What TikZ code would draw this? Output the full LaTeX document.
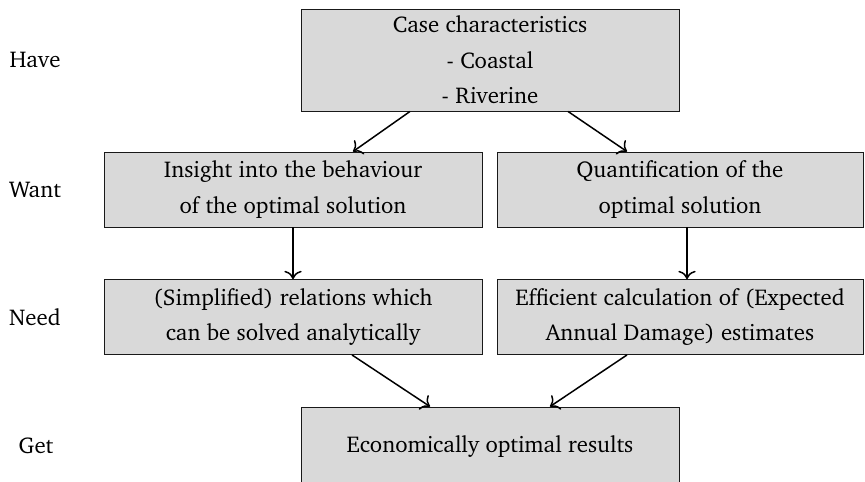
\documentclass[tikz,border=0pt]{standalone}
\usepackage[T1]{fontenc}
\usepackage{charter}
\usetikzlibrary{arrows.meta}

\begin{document}
\begin{tikzpicture}[
        % pixel grid of the reference
        x=0.02cm,
        y=-0.02cm,
        box/.style={draw=black!90, fill=black!15, line width=0.5pt, align=center, inner sep=0pt,
            minimum width=7.56cm, minimum height=1.5cm, font=\fontsize{13}{20.3}\selectfont},
        narrowBox/.style={box, minimum width=7.32cm},
        rowLabel/.style={font=\fontsize{13}{15}\selectfont},
        flow/.style={-{To[scale=1.35]}, line width=0.85pt, black}
    ]

        % --- 0. canvas ---
        \useasboundingbox (0,0) rectangle (865,481);

        % --- 1. row labels ---
        \node[rowLabel] (have) at (35,60) {Have};
        \node[rowLabel] (want) at (35,190) {Want};
        \node[rowLabel] (need) at (35,317) {Need};
        \node[rowLabel] (get) at (36,446) {Get};

        % --- 2. boxes ---
        \node[box, minimum height=2.04cm] (case) at (490,60) {Case characteristics\\- Coastal\\- Riverine};
        \node[box] (insight) at (293,189.5) {Insight into the behaviour\\of the optimal solution};
        \node[narrowBox] (quant) at (680,189.5) {Quantification of the\\optimal solution};
        \node[box] (relations) at (293,317) {(Simplified) relations which\\can be solved analytically};
        \node[narrowBox] (efficient) at (680,317) {Efficient calculation of (Expected\\Annual Damage) estimates};
        \node[box, minimum height=1.56cm] (result) at (490,446) {Economically optimal results};

        % --- 3. connectors ---
        \draw[flow] ([xshift=-1.6cm]case.south) -- ([xshift=1.2cm]insight.north);
        \draw[flow] ([xshift=1.56cm]case.south) -- ([xshift=-1.06cm]quant.north);
        \draw[flow] (insight.south) -- (relations.north);
        \draw[flow] ([xshift=0.14cm]quant.south) -- ([xshift=0.14cm]efficient.north);
        \draw[flow] ([xshift=1.18cm]relations.south) -- ([xshift=-1.2cm]result.north);
        \draw[flow] ([xshift=-1.06cm]efficient.south) -- ([xshift=1.2cm]result.north);

    \end{tikzpicture}
\end{document}
